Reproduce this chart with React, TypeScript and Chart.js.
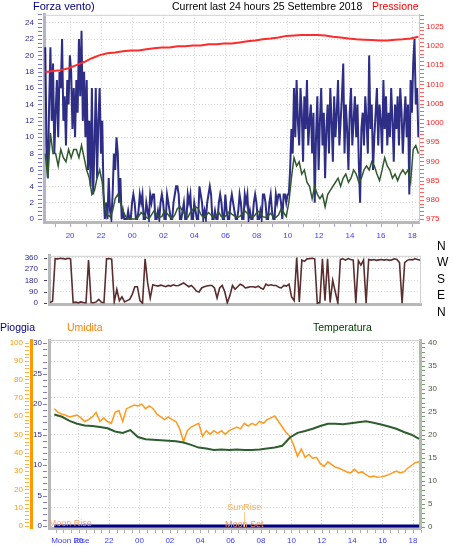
import React, { useEffect, useRef } from "react";
import { Chart, registerables } from "chart.js";
Chart.register(...registerables);

const FONT = "'Liberation Sans', Arial, Helvetica, sans-serif";

// ---- data ----
const START = 18.4; // 18:24 of the first day (hours, continuing past 24)
const GUST_STEP = 1 / 12;
const gust = [
  // 18:24 - 22:00
  21, 9, 5, 14, 21, 12, 19, 8, 13, 17, 10, 18, 16, 22, 12, 15, 9, 17, 14, 20, 18, 11,
  16, 10, 17, 13, 22, 15, 23, 12, 18, 10, 17, 6, 12, 4, 16, 3, 9, 16, 5, 12, 16, 8,
  // 22:00 - 23:30
  12, 3, 0, 2, 0, 5, 1, 0, 3, 8, 6, 10, 8, 2, 5, 0, 1, 0,
  // 23:30 - 10:00
  0, 0, 1, 0, 0, 2, 3, 2, 0, 0, 1, 3, 2, 3, 0, 0, 2, 1, 0, 3,
  2, 3, 3, 0, 0, 1, 0, 2, 3, 2, 0, 0, 3, 2, 1, 0, 0, 2, 3, 4,
  4, 3, 0, 0, 1, 2, 0, 0, 3, 2, 3, 0, 0, 2, 1, 0, 0, 4, 3, 2,
  0, 1, 0, 2, 3, 4, 3, 0, 0, 1, 0, 0, 2, 3, 2, 0, 0, 3, 1, 0,
  0, 2, 3, 2, 1, 0, 0, 1, 3, 2, 0, 0, 3, 2, 3, 0, 1, 0, 0, 2,
  3, 2, 0, 0, 1, 0, 3, 3, 2, 0, 0, 2, 3, 1, 0, 0, 3, 2, 3, 3,
  2, 0, 3, 3, 2, 3,
  // 10:00 - 18:24
  3, 6, 11, 8, 16, 10, 17, 12, 9, 16,
  13, 7, 15, 11, 17, 9, 12, 14, 8, 13,
  2, 10, 15, 6, 12, 16, 9, 13, 5, 11,
  14, 8, 16, 12, 7, 15, 10, 13, 17, 9,
  12, 15, 19, 8, 14, 11, 6, 13, 16, 9,
  12, 15, 10, 14, 7, 2, 11, 13, 9, 15,
  12, 8, 20, 11, 14, 6, 10, 13, 16, 9,
  14, 12, 8, 17, 11, 15, 9, 13, 10, 16,
  12, 7, 14, 11, 15, 9, 16, 13, 8, 12,
  15, 10, 14, 3, 17, 13, 19, 22, 14, 16,
  10,
];
const AVG_STEP = 1 / 6;
const windAvg = [
  8, 5, 10.5, 8, 8, 6.5, 8.5, 7.5, 7, 8.5,
  7.5, 8.5, 8.5, 7.5, 9, 7.5, 6, 5, 3, 3.5,
  5, 6, 4.5, 1.5, 0.5, 0.3, 1, 2.5, 3, 2,
  1, 0.3, 0, 0, 0, 0, 0.3, 0.8, 0.5, 0.2,
  0, 0.5, 1, 0.6, 0.2, 0.3, 1, 0.7, 0.3, 0.1,
  0.5, 1.3, 1.5, 1, 0.5, 0.2, 0.8, 1.2, 1.5, 1.3,
  0.6, 0.2, 0.4, 0.8, 0.5, 0.2, 0.5, 0.8, 0.3, 0.2,
  0.5, 0.9, 0.6, 0.4, 0.2, 0.3, 0.6, 1, 0.7, 0.4,
  0.2, 0.5, 1, 0.7, 0.3, 0.2, 0.4, 0.7, 0.3, 0.2,
  0.5, 1.2, 0.8, 0.3, 2, 5, 7.5, 6.5, 7, 5.5,
  6, 4.5, 4, 2.5, 4, 3, 2.5, 3, 1.5, 3,
  3.5, 4, 4.5, 5, 4, 5, 5.5, 4.5, 5, 6,
  5.5, 4.5, 5, 6, 6.5, 6, 7, 6.5, 5.5, 4.7,
  6, 7.5, 6.5, 6, 5, 5.5, 4.7, 5.5, 6, 5.5,
  6, 4.5, 8.5, 9, 8,
];
const PRESS_STEP = 0.5;
const pressure = [
  1013.2, 1013.5, 1013.7, 1014.2, 1015, 1015.8, 1016.8, 1017.6, 1018.1, 1018.3,
  1018.6, 1018.8, 1018.8, 1019.1, 1019.4, 1019.6, 1019.6, 1019.9, 1019.9, 1020.1,
  1020.1, 1020.4, 1020.4, 1020.6, 1020.6, 1020.9, 1021.2, 1021.4, 1021.7, 1021.9,
  1022.2, 1022.6, 1022.7, 1022.8, 1022.8, 1022.8, 1022.7, 1022.4, 1022.2, 1021.9,
  1021.7, 1021.6, 1021.5, 1021.4, 1021.4, 1021.6, 1021.7, 1021.9, 1022.4,
];
const DIR_STEP = 1 / 6;
const direction = [
  5, 15, 352, 350, 355, 352, 348, 354, 350, 5,
  8, 3, 10, 5, 2, 340, 5, 3, 10, 30,
  8, 5, 350, 352, 348, 10, 110, 20, 50, 10,
  20, 30, 70, 130, 130, 20, 0, 350, 160, 40,
  145, 140, 135, 142, 138, 130, 140, 135, 145, 138,
  140, 150, 160, 145, 130, 140, 120, 95, 88, 120,
  130, 135, 140, 140, 120, 40, 120, 140, 90, 3,
  60, 140, 110, 130, 150, 140, 120, 125, 130, 130,
  125, 135, 120, 110, 150, 140, 145, 140, 140, 125,
  120, 140, 135, 150, 50, 20, 360, 10, 340, 330,
  350, 352, 355, 350, 0, 5, 350, 20, 350, 5,
  180, 90, 0, 345, 350, 340, 352, 345, 340, 0,
  335, 300, 340, 0, 345, 340, 345, 338, 342, 345,
  340, 345, 338, 342, 350, 345, 320, 0, 320, 338,
  345, 342, 350, 345, 340,
];
const HUM_STEP = 0.25;
const humidity = [
  64, 62, 61, 60.5, 59.5, 60, 60.5, 59, 57, 58,
  59.5, 62, 57, 59, 57, 56, 62, 63, 57, 64,
  65, 66, 65.5, 66.5, 64, 65.5, 64, 61, 59.5, 58,
  59.5, 58, 57, 53, 46, 52, 54, 55, 56, 49,
  52, 50, 52, 50.5, 52, 50, 52, 53, 54, 53,
  56, 54.5, 56, 55, 57, 56, 58, 59, 60, 57,
  54, 51, 49, 44, 38, 42, 37.5, 39, 37, 37.5,
  34, 32.5, 35, 33.5, 32, 31.5, 30.5, 29.5, 29, 31,
  29, 29.5, 28, 26.8, 27.2, 26.6, 26.8, 27.3, 28, 29,
  30, 29, 29.5, 31.5, 33, 34.5, 35,
];
const TEMP_STEP = 0.5;
const temperature = [
  24.4, 23.9, 23.0, 22.4, 22.0, 21.9, 21.7, 21.4, 20.7, 20.4,
  21.0, 19.5, 19.0, 18.9, 18.8, 18.7, 18.6, 18.3, 17.8, 17.2,
  17.0, 16.7, 16.8, 16.7, 16.8, 16.7, 16.7, 16.8, 17.0, 17.2,
  17.6, 19.4, 20.4, 20.8, 21.3, 21.9, 22.4, 22.4, 22.3, 22.5,
  22.7, 22.9, 22.6, 22.2, 21.8, 21.3, 20.6, 20.0, 19.1,
];
const RAIN_STEP = 1;
const rain = [0, 0, 0, 0, 0, 0, 0, 0, 0, 0, 0, 0, 0, 0, 0, 0, 0, 0, 0, 0, 0, 0, 0, 0, 0];

const hourTicks = [20, 22, 24, 26, 28, 30, 32, 34, 36, 38, 40, 42];
const windTicks = [0, 2, 4, 6, 8, 10, 12, 14, 16, 18, 20, 22, 24];
const pressureTicks = [975, 980, 985, 990, 995, 1000, 1005, 1010, 1015, 1020, 1025];
const dirTicks = [0, 90, 180, 270, 360];
const compass = ["N", "W", "S", "E", "N"];
const rainTicks = [0, 5, 10, 15, 20, 25, 30];
const humTicks = [0, 10, 20, 30, 40, 50, 60, 70, 80, 90, 100];
const tempTicks = [0, 5, 10, 15, 20, 25, 30, 35, 40];
const eventLabels = ["Moon Rise", "SunRise", "Moon Set"];
const eventTimes = [19.45, 30.9, 30.9];

// ---- helpers ----
const series = (vals: number[], step: number) => vals.map((y, i) => ({ x: START + i * step, y }));
const pad2 = (v: number) => String(Math.round(v) % 24).padStart(2, "0");
const setTicks = (list: number[]) => (s: any) => {
  s.ticks = list.map((value) => ({ value }));
};

const EVENT_STYLE: Record<string, { dy: number; color: string; line?: boolean; axis?: boolean }> = {
  "Moon Rise": { dy: -4, color: "#f4a070", axis: true },
  SunRise: { dy: -20, color: "#ffad5c", line: true },
  "Moon Set": { dy: -3, color: "#f09060" },
};

function makeDecor(cfg: any) {
  return {
    id: "decor",
    afterDraw(chart: any) {
      const { ctx, chartArea: ca } = chart;
      ctx.save();
      ctx.lineWidth = 1;
      if (cfg.frame) {
        ctx.strokeStyle = cfg.frame;
        ctx.beginPath();
        ctx.moveTo(ca.left, ca.top + 0.5);
        ctx.lineTo(ca.right, ca.top + 0.5);
        if (cfg.frameRight) {
          ctx.moveTo(ca.right - 0.5, ca.top);
          ctx.lineTo(ca.right - 0.5, ca.bottom);
        }
        ctx.stroke();
      }
      for (const m of cfg.minor || []) {
        const sc = chart.scales[m.scale];
        ctx.strokeStyle = m.color;
        ctx.beginPath();
        const n = Math.round((m.to - m.from) / m.step);
        for (let k = 0; k <= n; k++) {
          const v = m.from + k * m.step;
          const p = Math.round(sc.getPixelForValue(v)) + 0.5;
          if (m.side === "left") {
            ctx.moveTo(sc.right - m.offset - m.len, p);
            ctx.lineTo(sc.right - m.offset, p);
          } else if (m.side === "right") {
            ctx.moveTo(sc.left + m.offset, p);
            ctx.lineTo(sc.left + m.offset + m.len, p);
          } else {
            ctx.moveTo(p, sc.top + m.offset);
            ctx.lineTo(p, sc.top + m.offset + m.len);
          }
        }
        ctx.stroke();
      }
      if (cfg.events) {
        const xs = chart.scales.x;
        ctx.font = `9px ${FONT}`;
        ctx.textAlign = "center";
        ctx.textBaseline = "middle";
        eventLabels.forEach((lab, i) => {
          const st = EVENT_STYLE[lab];
          const px = xs.getPixelForValue(eventTimes[i]);
          if (st.line) {
            ctx.strokeStyle = "#ffc890";
            ctx.beginPath();
            ctx.moveTo(Math.round(px) + 0.5, ca.bottom + st.dy + 4);
            ctx.lineTo(Math.round(px) + 0.5, ca.bottom - 1);
            ctx.stroke();
          }
          ctx.fillStyle = st.color;
          ctx.fillText(lab, px, ca.bottom + st.dy);
          if (st.axis) {
            ctx.font = `8px ${FONT}`;
            ctx.fillStyle = "#3a3aff";
            ctx.fillText(lab, px, ca.bottom + 13);
            ctx.font = `9px ${FONT}`;
          }
        });
      }
      ctx.restore();
    },
  };
}

const GRID = "#d6d6d6";
const baseOpts = {
  responsive: false,
  animation: false as const,
  events: [] as any[],
  plugins: { legend: { display: false }, tooltip: { enabled: false } },
};
const line = (data: any, color: string, width: number, axis: string, order: number) => ({
  data,
  borderColor: color,
  borderWidth: width,
  pointRadius: 0,
  tension: 0,
  fill: false,
  yAxisID: axis,
  order,
});

export default function App() {
  const r1 = useRef<HTMLCanvasElement>(null);
  const r2 = useRef<HTMLCanvasElement>(null);
  const r3 = useRef<HTMLCanvasElement>(null);

  useEffect(() => {
    Chart.defaults.font.family = FONT;
    const xTicks = { callback: (v: any) => pad2(v), color: "#3a3aff", font: { size: 8 }, maxRotation: 0, autoSkip: false };

    const top = new Chart(r1.current!, {
      type: "line",
      data: {
        datasets: [
          line(series(pressure, PRESS_STEP), "#ff2a2a", 2, "yP", 0),
          line(series(windAvg, AVG_STEP), "#2f5a2f", 1.5, "yW", 1),
          line(series(gust, GUST_STEP), "rgba(6,6,112,0.84)", 2, "yW", 2),
        ],
      },
      options: {
        ...baseOpts,
        layout: { padding: { top: 12, left: 0, right: 0, bottom: 0 } },
        scales: {
          x: {
            type: "linear", min: 18.32, max: 42.44,
            afterBuildTicks: setTicks(hourTicks),
            afterFit: (s: any) => { s.height = 23; },
            ticks: { ...xTicks, padding: 9 },
            grid: { color: GRID, drawTicks: false },
            border: { color: "#b8b8b8", width: 3, dash: [1, 2] },
          },
          yW: {
            position: "left", min: -0.36, max: 24.96,
            afterBuildTicks: setTicks(windTicks),
            afterFit: (s: any) => { s.width = 44; },
            ticks: { color: "#2a2a9a", font: { size: 8 }, padding: 10, callback: (v: any) => String(v) },
            grid: { color: GRID, drawTicks: false },
            border: { color: "#b4b4c8", width: 3, dash: [1, 2] },
          },
          yP: {
            position: "right", min: 974.23, max: 1028.08,
            afterBuildTicks: setTicks(pressureTicks),
            afterFit: (s: any) => { s.width = 47; },
            ticks: { color: "#ff2020", font: { size: 8 }, padding: 7, callback: (v: any) => String(v) },
            grid: { drawOnChartArea: false, drawTicks: false },
            border: { color: "#c8c8c8", width: 1 },
          },
        },
      } as any,
      plugins: [makeDecor({
        frame: "#d0d0d0",
        minor: [
          { scale: "yW", side: "left", from: 0, to: 25, step: 0.5, len: 4, offset: 2, color: "#7a7acc" },
          { scale: "yP", side: "right", from: 975, to: 1028, step: 1, len: 4, offset: 1, color: "#ff6060" },
          { scale: "x", side: "bottom", from: 19, to: 42, step: 1, len: 3, offset: 2, color: "#a8a8d0" },
        ],
      })],
    });

    const mid = new Chart(r2.current!, {
      type: "line",
      data: { datasets: [line(series(direction, DIR_STEP), "#5a2e2e", 1.6, "y", 0)] },
      options: {
        ...baseOpts,
        layout: { padding: { top: 4, left: 0, right: 45, bottom: 0 } },
        scales: {
          x: {
            type: "linear", min: 18.335, max: 42.46,
            afterFit: (s: any) => { s.height = 8; },
            ticks: { display: false },
            grid: { display: false },
            border: { color: "#b8b8b8", width: 3 },
          },
          y: {
            position: "left", min: -8, max: 374,
            afterBuildTicks: setTicks(dirTicks),
            afterFit: (s: any) => { s.width = 49; },
            ticks: { color: "#2a2a9a", font: { size: 8 }, padding: 11, callback: (v: any) => String(v) },
            grid: { color: GRID, drawTicks: false },
            border: { color: "#b8b8b8", width: 3, dash: [1, 2] },
          },
        },
      } as any,
      plugins: [makeDecor({
        frame: "#d0d0d0",
        frameRight: true,
        minor: [{ scale: "y", side: "left", from: 0, to: 360, step: 90, len: 3, offset: 2, color: "#404080" }],
      })],
    });

    const bot = new Chart(r3.current!, {
      type: "line",
      data: {
        datasets: [
          line(series(rain, RAIN_STEP), "#000080", 3, "yR", 0),
          line(series(temperature, TEMP_STEP), "#2e5e2e", 2, "yT", 1),
          line(series(humidity, HUM_STEP), "#ff9a1e", 1.5, "yH", 2),
        ],
      },
      options: {
        ...baseOpts,
        layout: { padding: { top: 22, left: 0, right: 0, bottom: 0 } },
        scales: {
          x: {
            type: "linear", min: 18.05, max: 42.46,
            afterBuildTicks: setTicks(hourTicks),
            afterFit: (s: any) => { s.height = 27; },
            ticks: { ...xTicks, padding: 8 },
            grid: { color: GRID, drawTicks: false },
            border: { color: "#b8b8b8", width: 3, dash: [1, 2] },
          },
          yR: {
            position: "left", weight: 0, min: -0.33, max: 30.54,
            afterBuildTicks: setTicks(rainTicks),
            afterFit: (s: any) => { s.width = 18; },
            ticks: { color: "#2a2a9a", font: { size: 8 }, padding: 7, callback: (v: any) => String(v) },
            grid: { drawOnChartArea: false, drawTicks: false },
            border: { color: "#b8b8b8", width: 3 },
          },
          yH: {
            position: "left", weight: 1, min: -1.09, max: 101.47,
            afterBuildTicks: setTicks(humTicks),
            afterFit: (s: any) => { s.width = 31; },
            ticks: { color: "#ff9900", font: { size: 8 }, padding: 8, callback: (v: any) => String(v) },
            grid: { color: GRID, drawTicks: false },
            border: { color: "#ff9900", width: 3, dash: [1, 2] },
          },
          yT: {
            position: "right", min: -0.28, max: 40.59,
            afterBuildTicks: setTicks(tempTicks),
            afterFit: (s: any) => { s.width = 46; },
            ticks: { color: "#4a5a40", font: { size: 8 }, padding: 8, callback: (v: any) => String(v) },
            grid: { drawOnChartArea: false, drawTicks: false },
            border: { color: "#b0bca8", width: 3 },
          },
        },
      } as any,
      plugins: [makeDecor({
        frame: "#d0d0d0",
        events: true,
        minor: [
          { scale: "yR", side: "left", from: 0, to: 30, step: 1, len: 4, offset: 2, color: "#8080c0" },
          { scale: "yH", side: "left", from: 0, to: 100, step: 2, len: 4, offset: 2, color: "#ffb040" },
          { scale: "yT", side: "right", from: 0, to: 40, step: 1, len: 3, offset: 2, color: "#789878" },
          { scale: "x", side: "bottom", from: 18.5, to: 42.5, step: 0.5, len: 3, offset: 2, color: "#b0b0b0" },
        ],
      })],
    });

    return () => {
      top.destroy();
      mid.destroy();
      bot.destroy();
    };
  }, []);

  const txt = (t: string, x: number, y: number, color: string, size = 10.5, lh = 12) => (
    <div key={t + x + y} style={{ position: "absolute", left: x, top: y, color, fontSize: size, lineHeight: `${lh}px`, whiteSpace: "nowrap" }}>{t}</div>
  );

  return (
    <div style={{ position: "fixed", left: 0, top: 0, width: 466, height: 555, background: "#fff", overflow: "hidden", fontFamily: FONT }}>
      <canvas ref={r1} width={466} height={245} style={{ position: "absolute", left: 0, top: 0 }} />
      <canvas ref={r2} width={466} height={80} style={{ position: "absolute", left: 0, top: 240 }} />
      <canvas ref={r3} width={466} height={237} style={{ position: "absolute", left: 0, top: 318 }} />
      {txt("Forza vento)", 33, 0, "#000080", 11)}
      {txt("Current last 24 hours 25 Settembre 2018", 172, 0, "#000000")}
      {txt("Pressione", 372, 0, "#ff0000")}
      {compass.map((c, i) => txt(c, 437, 239 + i * 16.4, "#000000", 12, 14))}
      {txt("Pioggia", 0, 321, "#000080")}
      {txt("Umidita", 67, 321, "#ff8000")}
      {txt("Temperatura", 313, 321, "#004000")}
    </div>
  );
}
